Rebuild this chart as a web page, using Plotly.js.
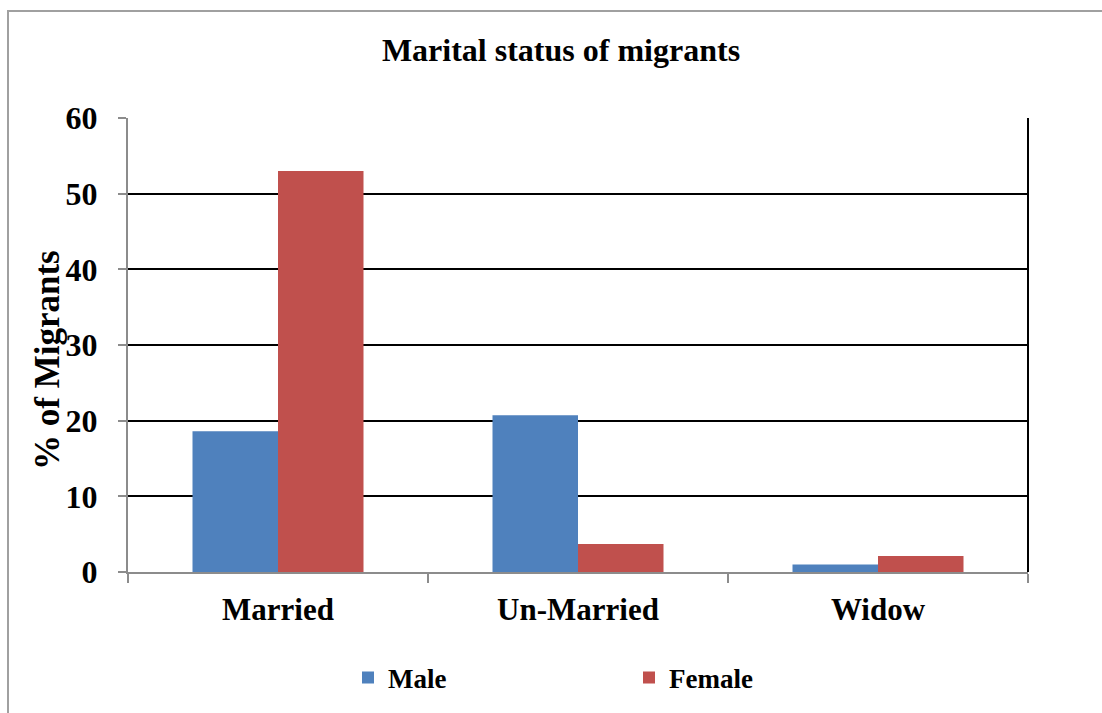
<!DOCTYPE html>
<html><head><meta charset="utf-8">
<script src="https://cdn.plot.ly/plotly-3.0.1.min.js"></script>
<style>html,body{margin:0;padding:0;background:#fff}#chart{width:1102px;height:713px}</style>
</head><body><div id="chart"></div>
<script>
const categories = ["Married", "Un-Married", "Widow"];
const maleValues = [18.6, 20.7, 1.0];
const femaleValues = [53.0, 3.7, 2.1];
const seriesNames = ["Male", "Female"];
const yTicks = [0, 10, 20, 30, 40, 50, 60];

const F = "Liberation Serif, Times New Roman, serif";
const traces = [
  {type:"bar", name:seriesNames[0], x:categories, y:maleValues, marker:{color:"#4F81BD"}},
  {type:"bar", name:seriesNames[1], x:categories, y:femaleValues, marker:{color:"#C0504D"}}
];
const layout = {
  width:1102, height:713,
  margin:{l:128, r:74, t:118, b:141},
  paper_bgcolor:"#fff", plot_bgcolor:"#fff",
  barmode:"group", bargap:0.43, bargroupgap:0,
  title:{text:"<b>Marital status of migrants</b>", font:{family:F, size:32, color:"#000"}, x:561/1102, xanchor:"center", y:1-50/713, yanchor:"middle"},
  xaxis:{showgrid:false, showline:true, linecolor:"#8c8c8c", linewidth:2,
    ticks:"outside", tickson:"boundaries", ticklen:9, tickcolor:"#8c8c8c", tickwidth:2,
    tickfont:{family:F, size:31, color:"#000"}, ticklabelstandoff:9},
  yaxis:{range:[0,60], tickvals:yTicks, showgrid:true, gridcolor:"#000", gridwidth:2,
    showline:true, linecolor:"#8c8c8c", linewidth:2, zeroline:false,
    ticks:"outside", ticklen:8, tickcolor:"#8c8c8c", tickwidth:2,
    tickfont:{family:F, size:32, color:"#000"}, ticklabelstandoff:14},
  showlegend:true,
  legend:{orientation:"h", x:348/1102, xanchor:"left", y:1-678/713, yanchor:"middle", yref:"container", xref:"container",
    font:{family:F, size:27, color:"#000"}, entrywidth:236, itemwidth:30, traceorder:"normal"},
  shapes:[
    {type:"line", xref:"paper", yref:"paper", x0:1, x1:1, y0:0, y1:1, line:{color:"#000", width:2}},
    {type:"rect", xref:"paper", yref:"paper", x0:(8-128)/900, x1:(1110-128)/900, y0:(572-720)/454, y1:(572-11)/454, line:{color:"#a0a0a0", width:2}, layer:"below"}
  ],
  annotations:[
    {text:"<b>% of Migrants</b>", xref:"paper", yref:"paper", x:(47-128)/900, y:(572-360)/454, xanchor:"center", yanchor:"middle", textangle:-90, showarrow:false, font:{family:F, size:35, color:"#000"}}
  ]
};
layout.xaxis.tickfont.weight = "bold";
layout.yaxis.tickfont.weight = "bold";
layout.legend.font.weight = "bold";
Plotly.newPlot("chart", traces, layout, {displayModeBar:false});
</script></body></html>
